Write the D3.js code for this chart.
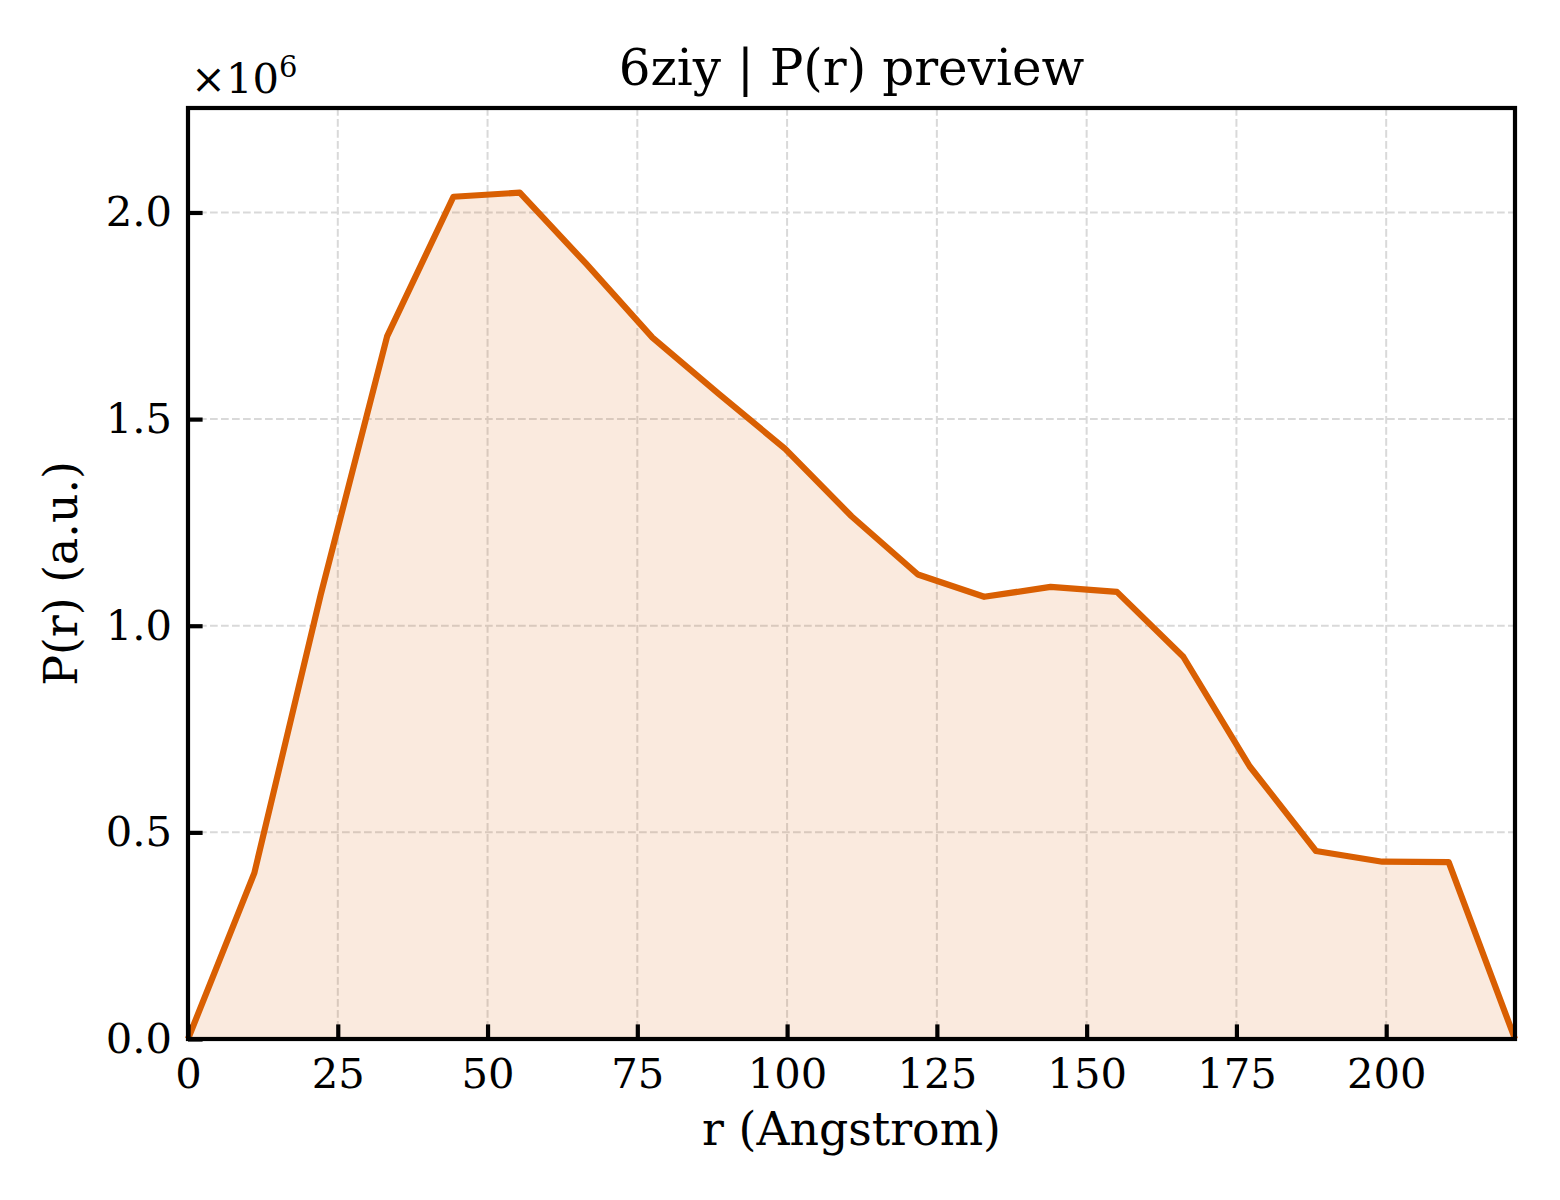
<!DOCTYPE html>
<html>
<head>
<meta charset="utf-8">
<script src="https://cdn.jsdelivr.net/npm/d3@7"></script>
<style>
  body { margin: 0; background: #fff; }
  text { font-family: "DejaVu Serif", serif; fill: #000; }
</style>
</head>
<body>
<div id="chart"></div>
<script>
// P(r) distribution
const rValues = [0, 11.08, 22.15, 33.23, 44.30, 55.38, 66.45, 77.53, 88.60, 99.68,
                 110.75, 121.83, 132.90, 143.98, 155.05, 166.13, 177.20, 188.28,
                 199.35, 210.43, 221.5];
const prValues = [0, 0.402e6, 1.075e6, 1.700e6, 2.038e6, 2.048e6, 1.876e6, 1.697e6,
                  1.561e6, 1.428e6, 1.265e6, 1.124e6, 1.070e6, 1.094e6, 1.082e6,
                  0.925e6, 0.660e6, 0.455e6, 0.429e6, 0.428e6, 0];
const xTicks = [0, 25, 50, 75, 100, 125, 150, 175, 200];
const yTicks = [0, 0.5e6, 1.0e6, 1.5e6, 2.0e6];

const data = rValues.map((r, i) => ({ r: r, p: prValues[i] }));

const width = 1560;
const height = 1200;
const margin = { top: 108, right: 45, bottom: 161, left: 188 };
const innerW = width - margin.left - margin.right;
const innerH = height - margin.top - margin.bottom;

const svg = d3.select('#chart')
              .append('svg')
              .attr('width', width)
              .attr('height', height);

const x = d3.scaleLinear()
            .domain([0, d3.max(rValues)])
            .range([0, innerW]);

const y = d3.scaleLinear()
            .domain([0, d3.max(prValues) * 1.1])
            .range([innerH, 0]);

const g = svg.append('g')
             .attr('transform', `translate(${margin.left},${margin.top})`);

// dashed grid
g.append('g')
 .selectAll('line')
 .data(xTicks)
 .enter()
 .append('line')
 .attr('x1', d => x(d)).attr('x2', d => x(d))
 .attr('y1', 0).attr('y2', innerH)
 .attr('stroke', '#d9d9d9')
 .attr('stroke-width', 2)
 .attr('stroke-dasharray', '7.7,3.3');

g.append('g')
 .selectAll('line')
 .data(yTicks)
 .enter()
 .append('line')
 .attr('x1', 0).attr('x2', innerW)
 .attr('y1', d => y(d)).attr('y2', d => y(d))
 .attr('stroke', '#d9d9d9')
 .attr('stroke-width', 2)
 .attr('stroke-dasharray', '7.7,3.3');

// filled area + line
const area = d3.area()
               .x(d => x(d.r))
               .y0(y(0))
               .y1(d => y(d.p));

const line = d3.line()
               .x(d => x(d.r))
               .y(d => y(d.p));

g.append('path')
 .datum(data)
 .attr('d', area)
 .attr('fill', '#d95f02')
 .attr('fill-opacity', 0.13);

g.append('path')
 .datum(data)
 .attr('d', line)
 .attr('fill', 'none')
 .attr('stroke', '#d95f02')
 .attr('stroke-width', 6.2)
 .attr('stroke-linejoin', 'round');

// axes, ticks pointing inward
const xAxis = d3.axisBottom(x)
                .tickValues(xTicks)
                .tickSizeInner(-14.6)
                .tickSizeOuter(0)
                .tickPadding(28)
                .tickFormat(d3.format('d'));

const yAxis = d3.axisLeft(y)
                .tickValues(yTicks)
                .tickSizeInner(-14.6)
                .tickSizeOuter(0)
                .tickPadding(28)
                .tickFormat(d => (d / 1e6).toFixed(1));

const gx = g.append('g')
            .attr('transform', `translate(0,${innerH})`)
            .call(xAxis);
const gy = g.append('g').call(yAxis);

[gx, gy].forEach(a => {
  a.select('.domain').remove();
  a.selectAll('.tick line').attr('stroke', '#000').attr('stroke-width', 4.2);
  a.selectAll('.tick text')
   .style('font-family', '"DejaVu Serif", serif')
   .style('font-size', '41.7px')
   .attr('fill', '#000');
});
gx.selectAll('.tick text').attr('dy', '0.71em').attr('y', 19);
gy.selectAll('.tick text').attr('x', -16);

// frame
g.append('rect')
 .attr('x', 0).attr('y', 0)
 .attr('width', innerW).attr('height', innerH)
 .attr('fill', 'none')
 .attr('stroke', '#000')
 .attr('stroke-width', 4.2);

// offset text
const off = svg.append('text')
               .attr('x', margin.left + 3)
               .attr('y', margin.top - 15)
               .style('font-size', '41.7px');
off.append('tspan').text('×10');
off.append('tspan')
   .attr('dy', -16)
   .style('font-size', '29px')
   .text('6');

// title and labels
svg.append('text')
   .attr('x', margin.left + innerW / 2)
   .attr('y', 85)
   .attr('text-anchor', 'middle')
   .style('font-size', '50px')
   .text('6ziy | P(r) preview');

svg.append('text')
   .attr('x', margin.left + innerW / 2)
   .attr('y', 1145)
   .attr('text-anchor', 'middle')
   .style('font-size', '45.8px')
   .text('r (Angstrom)');

svg.append('text')
   .attr('transform', `translate(77,${margin.top + innerH / 2}) rotate(-90)`)
   .attr('text-anchor', 'middle')
   .style('font-size', '45.8px')
   .text('P(r) (a.u.)');
</script>
</body>
</html>
